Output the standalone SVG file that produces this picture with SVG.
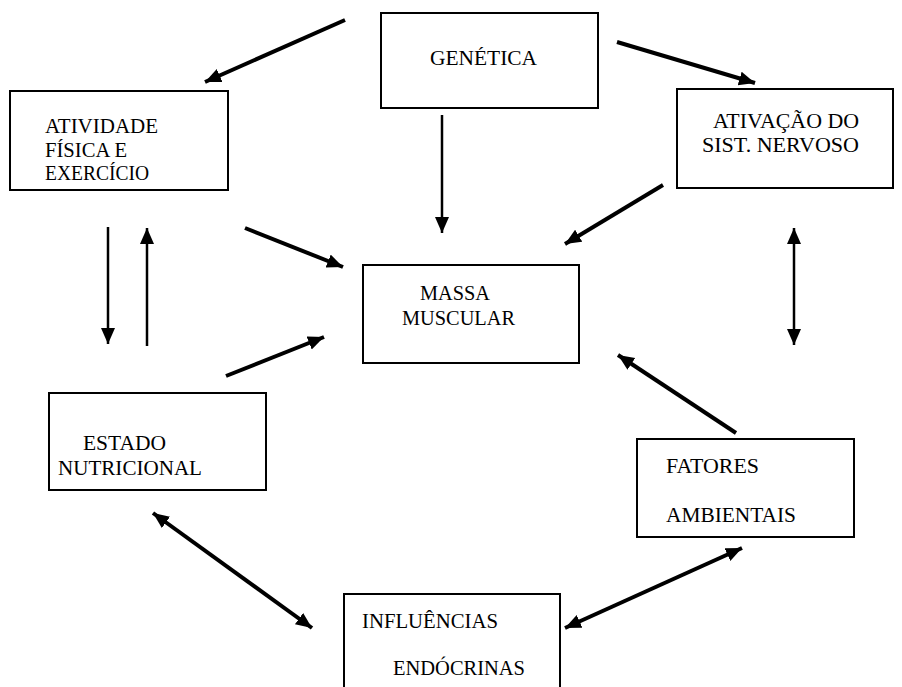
<svg xmlns="http://www.w3.org/2000/svg" width="902" height="687" viewBox="0 0 902 687">
<style>
.box{fill:#fff;stroke:#000;stroke-width:2}
.t{font-family:"Liberation Serif","Times New Roman",serif;font-size:20px;fill:#000}
.c{stroke:#000;stroke-width:4;fill:none;marker-end:url(#ah)}
.v{stroke:#000;stroke-width:2.5;fill:none;marker-end:url(#ah)}
.d{marker-start:url(#ah)}
</style>
<defs>
<marker id="ah" markerUnits="userSpaceOnUse" markerWidth="18" markerHeight="16" refX="16" refY="7" orient="auto-start-reverse" viewBox="0 0 18 16">
<path d="M0,0 L16,7 L0,14 z" fill="#000"/>
</marker>
</defs>
<rect width="902" height="687" fill="#fff"/>
<g id="connectors">
<line class="c" x1="345" y1="20" x2="205" y2="82"/>
<line class="c" x1="617" y1="42" x2="755" y2="83"/>
<line class="v" x1="442" y1="115" x2="442" y2="233"/>
<line class="v" x1="108" y1="227" x2="108" y2="344"/>
<line class="v" x1="147" y1="346" x2="147" y2="228"/>
<line class="c" x1="245" y1="228" x2="343" y2="267"/>
<line class="c" x1="663" y1="185" x2="565" y2="244"/>
<line class="v d" x1="794" y1="228" x2="794" y2="345"/>
<line class="c" x1="226" y1="376" x2="324" y2="337"/>
<line class="c" x1="736" y1="433" x2="618" y2="355"/>
<line class="c d" x1="153" y1="513" x2="312" y2="628"/>
<line class="c d" x1="565" y1="628" x2="742" y2="548"/>
</g>
<g id="genetica">
<rect class="box" x="381" y="13" width="217" height="95"/>
<text class="t" x="430" y="65" textLength="107" lengthAdjust="spacingAndGlyphs">GENÉTICA</text>
</g>
<g id="atividade">
<rect class="box" x="10" y="91" width="218" height="99"/>
<text class="t" x="45" y="133" textLength="113" lengthAdjust="spacingAndGlyphs">ATIVIDADE</text>
<text class="t" x="45" y="157" textLength="82" lengthAdjust="spacingAndGlyphs">FÍSICA E</text>
<text class="t" x="45" y="180" textLength="104" lengthAdjust="spacingAndGlyphs">EXERCÍCIO</text>
</g>
<g id="ativacao">
<rect class="box" x="677" y="89" width="216" height="99"/>
<text class="t" x="713" y="128" textLength="146" lengthAdjust="spacingAndGlyphs">ATIVAÇÃO DO</text>
<text class="t" x="702" y="152" textLength="157" lengthAdjust="spacingAndGlyphs">SIST. NERVOSO</text>
</g>
<g id="massa">
<rect class="box" x="363" y="265" width="216" height="98"/>
<text class="t" x="420" y="300" textLength="70" lengthAdjust="spacingAndGlyphs">MASSA</text>
<text class="t" x="402" y="325" textLength="113" lengthAdjust="spacingAndGlyphs">MUSCULAR</text>
</g>
<g id="estado">
<rect class="box" x="49" y="393" width="217" height="97"/>
<text class="t" x="83" y="450" textLength="83" lengthAdjust="spacingAndGlyphs">ESTADO</text>
<text class="t" x="58" y="475" textLength="144" lengthAdjust="spacingAndGlyphs">NUTRICIONAL</text>
</g>
<g id="fatores">
<rect class="box" x="637" y="439" width="217" height="98"/>
<text class="t" x="666" y="473" textLength="93" lengthAdjust="spacingAndGlyphs">FATORES</text>
<text class="t" x="666" y="522" textLength="130" lengthAdjust="spacingAndGlyphs">AMBIENTAIS</text>
</g>
<g id="influencias">
<rect class="box" x="344" y="594" width="216" height="110"/>
<text class="t" x="362" y="628" textLength="136" lengthAdjust="spacingAndGlyphs">INFLUÊNCIAS</text>
<text class="t" x="393" y="675" textLength="132" lengthAdjust="spacingAndGlyphs">ENDÓCRINAS</text>
</g>
</svg>
